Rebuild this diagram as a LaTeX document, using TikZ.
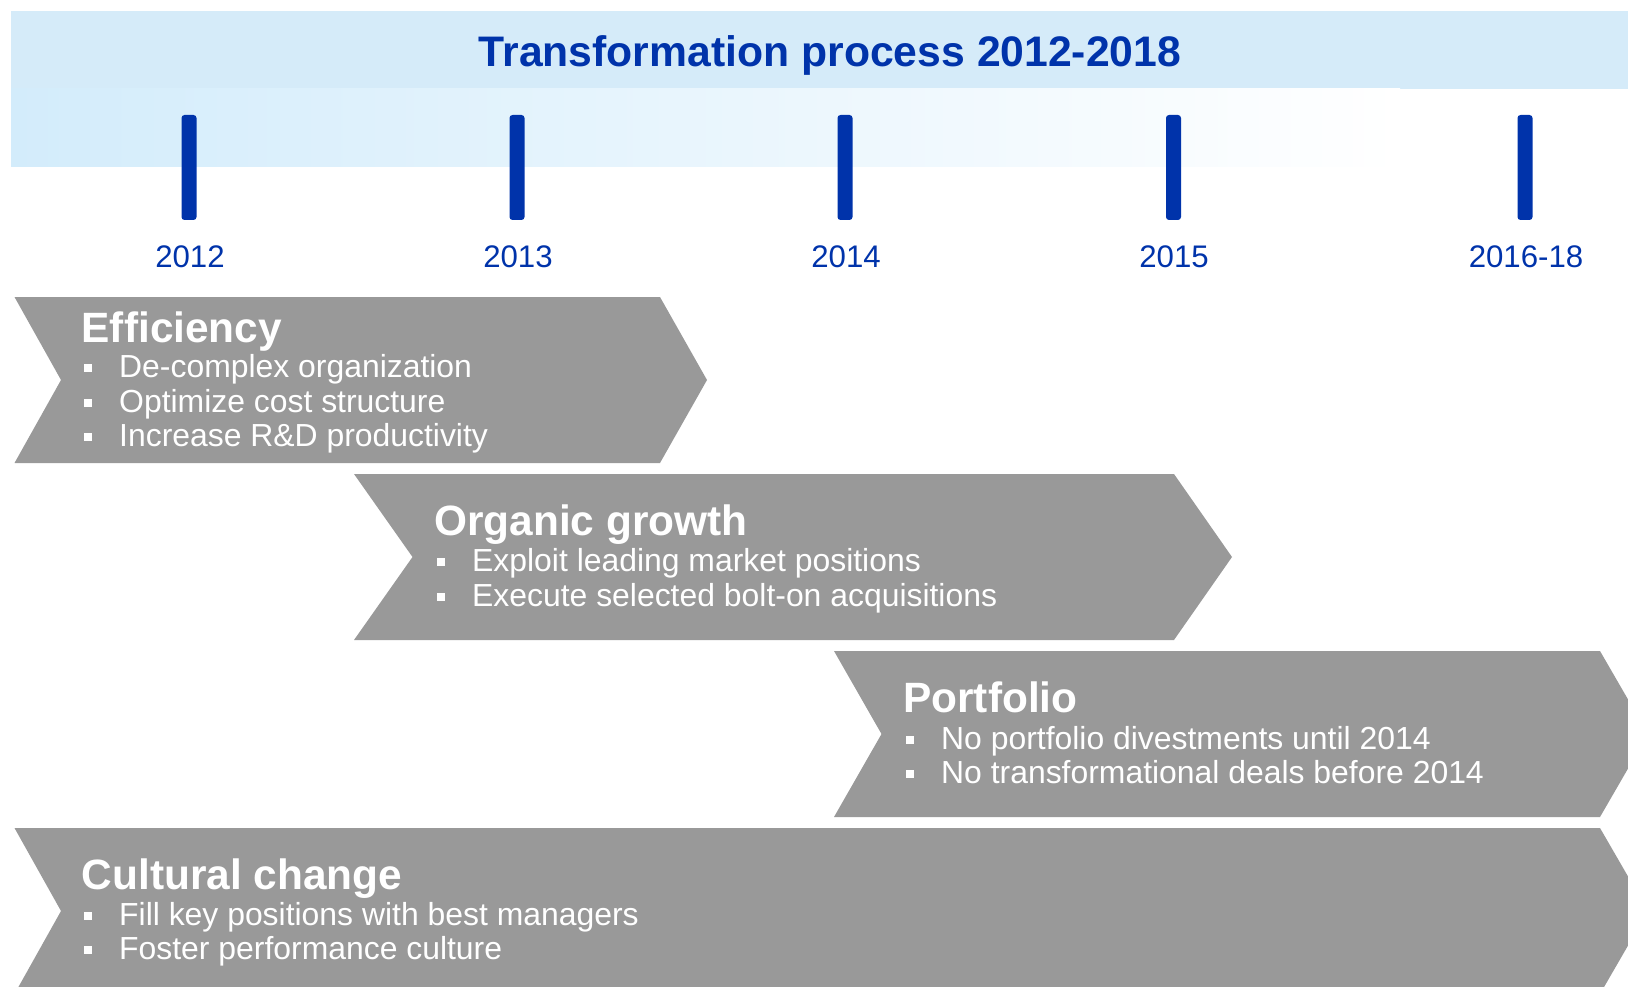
\documentclass[tikz,border=0pt]{standalone}
\usepackage{fontspec}
\setmainfont{Liberation Sans}
\definecolor{bandblue}{RGB}{213,235,249}
\definecolor{bandleft}{RGB}{211,236,251}
\definecolor{deepblue}{RGB}{0,51,170}
\definecolor{chevgray}{RGB}{153,153,153}
\newcommand\bul{\makebox[35pt][l]{\rule[5.5pt]{8pt}{8pt}}}
\tikzset{
  chev/.style={fill=chevgray},
  tickbar/.style={fill=deepblue, rounded corners=3pt, minimum width=15pt, minimum height=105pt, inner sep=0},
  yearlbl/.style={anchor=base, inner sep=0, text=deepblue, font=\fontsize{31.2}{36}\selectfont},
  titlelbl/.style={anchor=base, inner sep=0, text=deepblue, font=\fontsize{42.7}{50}\selectfont\bfseries},
  head/.style={anchor=base west, inner sep=0, text=white, font=\fontsize{42.4}{48}\selectfont\bfseries},
  item/.style={anchor=base west, inner sep=0, text=white, font=\fontsize{31.9}{36}\selectfont},
}
\begin{document}
\begin{tikzpicture}[x=1pt,y=-1pt]
\useasboundingbox (0,0) rectangle (1628,987);
\clip (0,0) rectangle (1628,987);
% header bands
\fill[bandblue] (11,11) rectangle (1628,89);
\shade[left color=bandleft, right color=white] (11,89) rectangle (1400,167);
\node[titlelbl] (title) at (830,66.5) {Transformation process 2012-2018};
% ticks and years
\node[tickbar] (t1) at (189,167.5) {};
\node[tickbar] (t2) at (517,167.5) {};
\node[tickbar] (t3) at (845,167.5) {};
\node[tickbar] (t4) at (1173.5,167.5) {};
\node[tickbar] (t5) at (1525,167.5) {};
\node[yearlbl] (y1) at (190,268) {2012};
\node[yearlbl] (y2) at (518,268) {2013};
\node[yearlbl] (y3) at (846,268) {2014};
\node[yearlbl] (y4) at (1174,268) {2015};
\node[yearlbl] (y5) at (1526,268) {2016-18};
% chevrons
\fill[chev] (14.5,297) -- (660,297) -- (707,380) -- (660,463) -- (14.5,463) -- (61,380) -- cycle;
\fill[chev] (354,474) -- (1174,474) -- (1232,557) -- (1174,640) -- (354,640) -- (412.5,557) -- cycle;
\fill[chev] (834,651) -- (1600,651) -- (1648,734) -- (1600,817) -- (834,817) -- (881.5,734) -- cycle;
\fill[chev] (14.5,828) -- (1600,828) -- (1648,911) -- (1600,994) -- (14.5,994) -- (61,911) -- cycle;
% Efficiency
\node[head] (eh) at (81.5,342) {Efficiency};
\node[item] (e1) at (84,377.5) {\bul De-complex organization};
\node[item] (e2) at (84,412) {\bul Optimize cost structure};
\node[item] (e3) at (84,446.5) {\bul Increase R\&D productivity};
% Organic growth
\node[head] (oh) at (434,535.5) {Organic growth};
\node[item] (o1) at (437,571.5) {\bul Exploit leading market positions};
\node[item] (o2) at (437,606) {\bul Execute selected bolt-on acquisitions};
% Portfolio
\node[head] (ph) at (903,712.5) {Portfolio};
\node[item] (p1) at (906,749.5) {\bul No portfolio divestments until 2014};
\node[item] (p2) at (906,783.5) {\bul No transformational deals before 2014};
% Cultural change
\node[head] (ch) at (81.5,889.5) {Cultural change};
\node[item] (c1) at (84,925) {\bul Fill key positions with best managers};
\node[item] (c2) at (84,959.5) {\bul Foster performance culture};
\end{tikzpicture}
\end{document}
